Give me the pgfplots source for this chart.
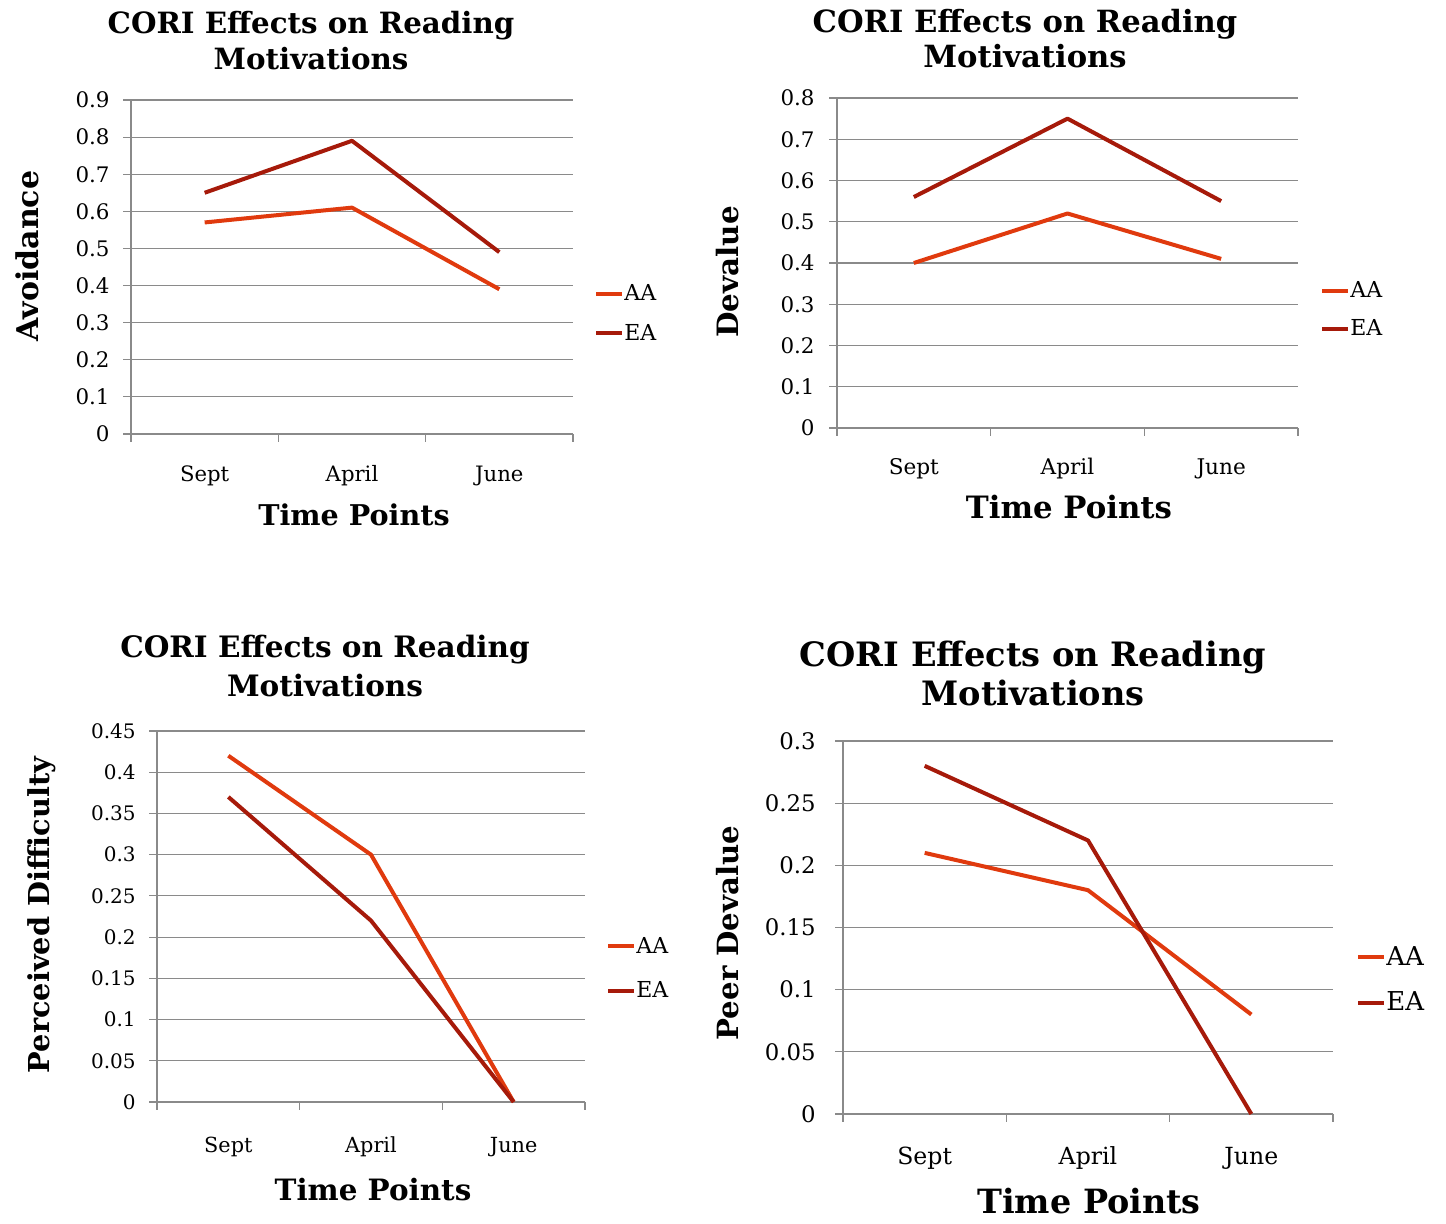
\documentclass[border=0pt]{standalone}
\usepackage{fontspec}
\setmainfont{DejaVu Serif}
\usepackage{pgfplots}
\pgfplotsset{compat=1.18}

\definecolor{aacol}{RGB}{224,58,14}
\definecolor{eacol}{RGB}{166,26,10}
\definecolor{gridgray}{RGB}{138,138,138}

\newcommand{\fs}[1]{\fontsize{#1}{1.2\dimexpr#1pt\relax}\selectfont}

% common look of the four line charts
\pgfplotsset{
  cori/.style={
    scale only axis,
    axis lines=left,
    axis line style={-, draw=gridgray, line width=0.6pt},
    xmin=0, xmax=3, ymin=0,
    xtick={0,1,2,3}, xticklabels={},
    extra x ticks={0.5,1.5,2.5},
    extra x tick labels={Sept,April,June},
    extra x tick style={major tick length=0pt},
    ymajorgrids,
    major grid style={draw=gridgray, line width=0.6pt},
    tick style={draw=gridgray, line width=0.6pt},
    tick align=outside,
    major tick length=4pt,
    yticklabel style={anchor=east, inner sep=0pt},
    /pgf/number format/fixed,
    /pgf/number format/precision=2,
    /pgf/number format/assume math mode=true,
    clip=false,
    legend cell align=left,
    legend image code/.code={\draw[##1] (0pt,0pt) -- (13pt,0pt);},
  },
  aa/.style={aacol, line width=2pt, line join=round},
  ea/.style={eacol, line width=2pt, line join=round},
}

\begin{document}
\begin{tikzpicture}
\useasboundingbox (0,0) rectangle (723pt,612pt);

% ---------- Avoidance ----------
\begin{axis}[cori,
  at={(65.5pt,395pt)}, anchor=south west,
  width=221pt, height=167pt,
  ymax=0.9, ytick={0,0.1,...,0.9},
  yticklabel style={font=\fs{10.7}, xshift=-6.5pt},
  extra x tick style={tick label style={anchor=base, yshift=-24pt, font=\fs{10.6}}},
  legend style={at={(1.0475,0.3593)}, anchor=west, draw=none, fill=none,
    inner sep=0pt, font=\fs{11}, row sep=6pt,
    /tikz/every odd column/.append style={column sep=-2pt}},
]
\addplot[aa] coordinates {(0.5,0.57) (1.5,0.61) (2.5,0.39)};
\addplot[ea] coordinates {(0.5,0.65) (1.5,0.79) (2.5,0.49)};
\legend{AA,EA}
\end{axis}
\node[anchor=base, font=\fs{14.65}\bfseries] at (155.5pt,595pt) {CORI Effects on Reading};
\node[anchor=base, font=\fs{14.65}\bfseries] at (155.5pt,577pt) {Motivations};
\node[anchor=base, font=\fs{14.3}\bfseries] at (177pt,349pt) {Time Points};
\node[anchor=base, rotate=90, font=\fs{15}\bfseries] at (19pt,484pt) {Avoidance};

% ---------- Devalue ----------
\begin{axis}[cori,
  at={(418.5pt,398pt)}, anchor=south west,
  width=230.5pt, height=165pt,
  ymax=0.8, ytick={0,0.1,...,0.8},
  yticklabel style={font=\fs{10.7}, xshift=-7pt},
  extra x tick style={tick label style={anchor=base, yshift=-23.5pt, font=\fs{10.8}}},
  legend style={at={(1.0477,0.359)}, anchor=west, draw=none, fill=none,
    inner sep=0pt, font=\fs{11}, row sep=5.5pt,
    /tikz/every odd column/.append style={column sep=-2pt}},
]
\addplot[aa] coordinates {(0.5,0.40) (1.5,0.52) (2.5,0.41)};
\addplot[ea] coordinates {(0.5,0.56) (1.5,0.75) (2.5,0.55)};
\legend{AA,EA}
\end{axis}
\node[anchor=base, font=\fs{15.3}\bfseries] at (512.5pt,595.5pt) {CORI Effects on Reading};
\node[anchor=base, font=\fs{15.3}\bfseries] at (512.5pt,578pt) {Motivations};
\node[anchor=base, font=\fs{15.4}\bfseries] at (534.5pt,352.5pt) {Time Points};
\node[anchor=base, rotate=90, font=\fs{14.7}\bfseries] at (369pt,476pt) {Devalue};

% ---------- Perceived Difficulty ----------
\begin{axis}[cori,
  at={(78.5pt,61pt)}, anchor=south west,
  width=214pt, height=185.5pt,
  ymax=0.45, ytick={0,0.05,0.1,0.15,0.2,0.25,0.3,0.35,0.4,0.45},
  yticklabel style={font=\fs{10}, xshift=-6.5pt},
  extra x tick style={tick label style={anchor=base, yshift=-25.5pt, font=\fs{10.4}}},
  legend style={at={(1.049,0.3598)}, anchor=west, draw=none, fill=none,
    inner sep=0pt, font=\fs{11}, row sep=8.5pt,
    /tikz/every odd column/.append style={column sep=-2pt}},
]
\addplot[aa] coordinates {(0.5,0.42) (1.5,0.30) (2.5,0)};
\addplot[ea] coordinates {(0.5,0.37) (1.5,0.22) (2.5,0)};
\legend{AA,EA}
\end{axis}
\node[anchor=base, font=\fs{14.75}\bfseries] at (162.5pt,283pt) {CORI Effects on Reading};
\node[anchor=base, font=\fs{14.75}\bfseries] at (162.5pt,263.5pt) {Motivations};
\node[anchor=base, font=\fs{14.7}\bfseries] at (186.5pt,11.5pt) {Time Points};
\node[anchor=base, rotate=90, font=\fs{14.4}\bfseries] at (24.5pt,154.5pt) {Perceived Difficulty};

% ---------- Peer Devalue ----------
\begin{axis}[cori,
  at={(421.5pt,55pt)}, anchor=south west,
  width=245pt, height=186.5pt,
  ymax=0.3, ytick={0,0.05,0.1,0.15,0.2,0.25,0.3},
  yticklabel style={font=\fs{11.4}, xshift=-9.5pt},
  extra x tick style={tick label style={anchor=base, yshift=-25.5pt, font=\fs{11.8}}},
  legend style={at={(1.047,0.3592)}, anchor=west, draw=none, fill=none,
    inner sep=0pt, font=\fs{13}, row sep=8pt,
    /tikz/every odd column/.append style={column sep=-2pt}},
]
\addplot[aa] coordinates {(0.5,0.21) (1.5,0.18) (2.5,0.08)};
\addplot[ea] coordinates {(0.5,0.28) (1.5,0.22) (2.5,0)};
\legend{AA,EA}
\end{axis}
\node[anchor=base, font=\fs{16.8}\bfseries] at (516.5pt,278.5pt) {CORI Effects on Reading};
\node[anchor=base, font=\fs{16.8}\bfseries] at (516.5pt,259pt) {Motivations};
\node[anchor=base, font=\fs{16.7}\bfseries] at (544.5pt,5pt) {Time Points};
\node[anchor=base, rotate=90, font=\fs{14.6}\bfseries] at (369pt,145.5pt) {Peer Devalue};
\end{tikzpicture}
\end{document}
